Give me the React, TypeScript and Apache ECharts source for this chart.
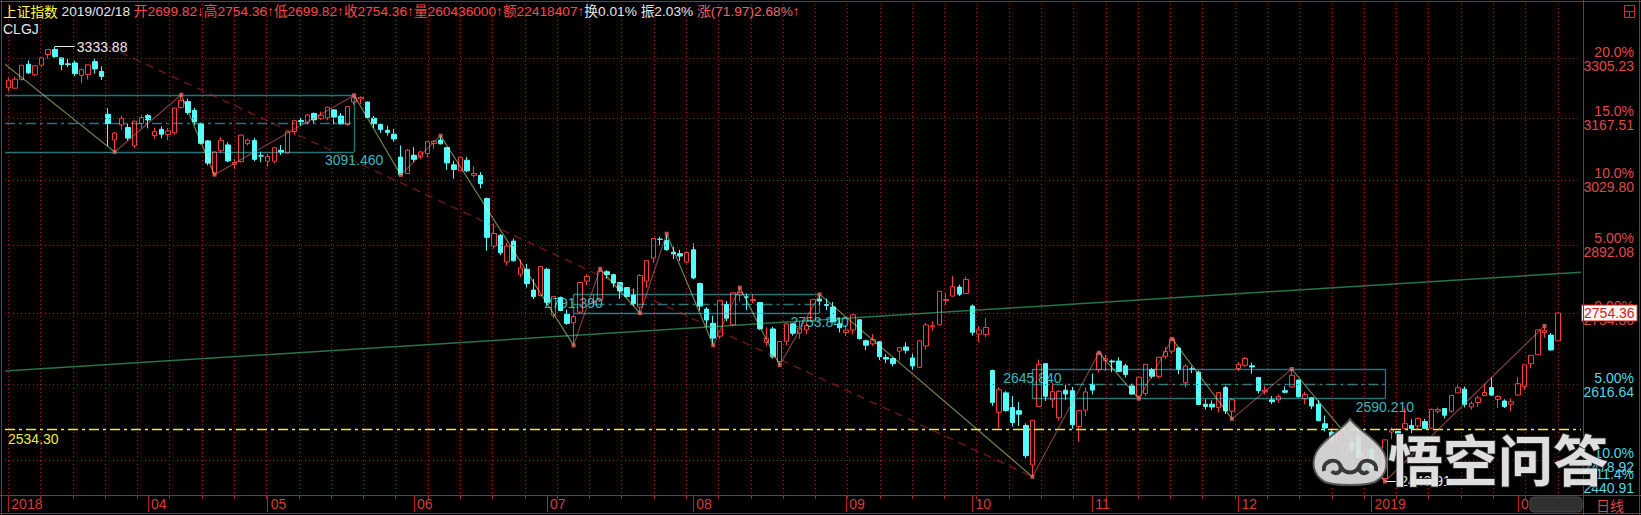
import React, { useEffect, useRef } from 'react';
import * as echarts from 'echarts';

// ---------------- trading days (day of month) ----------------
const days2018_03 = [2, 5, 6, 7, 8, 9, 12, 13, 14, 15, 16, 19, 20, 21, 22, 23, 26, 27, 28, 29, 30];
const days2018_04 = [2, 3, 4, 9, 10, 11, 12, 13, 16, 17, 18, 19, 20, 23, 24, 25, 26, 27];
const days2018_05 = [2, 3, 4, 7, 8, 9, 10, 11, 14, 15, 16, 17, 18, 21, 22, 23, 24, 25, 28, 29, 30, 31];
const days2018_06 = [1, 4, 5, 6, 7, 8, 11, 12, 13, 14, 15, 19, 20, 21, 22, 25, 26, 27, 28, 29];
const days2018_07 = [2, 3, 4, 5, 6, 9, 10, 11, 12, 13, 16, 17, 18, 19, 20, 23, 24, 25, 26, 27, 30, 31];
const days2018_08 = [1, 2, 3, 6, 7, 8, 9, 10, 13, 14, 15, 16, 17, 20, 21, 22, 23, 24, 27, 28, 29, 30, 31];
const days2018_09 = [3, 4, 5, 6, 7, 10, 11, 12, 13, 14, 17, 18, 19, 20, 21, 25, 26, 27, 28];
const days2018_10 = [8, 9, 10, 11, 12, 15, 16, 17, 18, 19, 22, 23, 24, 25, 26, 29, 30, 31];
const days2018_11 = [1, 2, 5, 6, 7, 8, 9, 12, 13, 14, 15, 16, 19, 20, 21, 22, 23, 26, 27, 28, 29, 30];
const days2018_12 = [3, 4, 5, 6, 7, 10, 11, 12, 13, 14, 17, 18, 19, 20, 21, 24, 25, 26, 27, 28];
const days2019_01 = [2, 3, 4, 7, 8, 9, 10, 11, 14, 15, 16, 17, 18, 21, 22, 23, 24, 25, 28, 29, 30, 31];
const days2019_02 = [1, 11, 12, 13, 14, 15, 18];

// ---------------- daily bars [open, high, low, close] ----------------
const bars2018_03 = [
  [3237, 3260, 3230, 3254.53], [3236, 3263, 3235, 3256.93], [3256, 3290, 3254, 3289.64],
  [3292, 3301, 3269, 3271.67], [3267, 3290, 3264, 3288.41], [3290, 3309, 3285, 3307.17],
  [3315, 3327, 3305, 3326.70], [3327, 3333.88, 3307, 3310.24], [3307, 3309, 3278, 3291.38],
  [3293, 3305, 3285, 3291.11], [3295, 3301, 3264, 3269.88], [3266, 3282, 3248, 3279.25],
  [3268, 3291, 3256, 3290.64], [3298, 3305, 3270, 3280.95], [3275, 3287, 3255, 3263.48],
  [3176, 3190, 3104, 3155.00], [3118, 3136, 3091.46, 3133.72], [3152, 3173, 3141, 3166.65],
  [3146, 3155, 3117, 3122.29], [3105, 3160, 3100, 3160.53], [3155, 3175, 3144, 3168.90],
];
const bars2018_04 = [
  [3173, 3177, 3144, 3163.18], [3128, 3146, 3121, 3136.63], [3142, 3149, 3122, 3131.11],
  [3130, 3145, 3118, 3138.29], [3134, 3190, 3130, 3190.32], [3191, 3220.85, 3190, 3208.08],
  [3205, 3212, 3175, 3180.16], [3185, 3191, 3152, 3159.05], [3154, 3157, 3108, 3110.65],
  [3116, 3118, 3062, 3066.80], [3045, 3092, 3041.5, 3091.40], [3094, 3125, 3089, 3117.38],
  [3107, 3113, 3069, 3071.54], [3064, 3076, 3055, 3068.01], [3070, 3130, 3068, 3128.93],
  [3110, 3121, 3106, 3117.97], [3117, 3123, 3071, 3075.03], [3083, 3092, 3069, 3082.23],
];
const bars2018_05 = [
  [3071, 3087, 3059, 3081.18], [3071, 3101, 3066, 3100.86], [3095, 3107, 3085, 3091.03],
  [3089, 3137, 3089, 3136.65], [3137, 3162, 3129, 3161.50], [3162, 3168, 3150, 3159.15],
  [3158, 3176, 3153, 3174.41], [3178, 3180, 3156, 3163.26], [3166, 3182, 3163, 3174.03],
  [3168, 3193, 3162, 3192.12], [3186, 3188, 3153, 3169.57], [3172, 3179, 3153, 3154.28],
  [3153, 3194, 3149, 3193.30], [3204, 3219.74, 3198, 3213.84], [3211, 3217, 3199, 3214.35],
  [3204, 3205, 3168, 3168.96], [3167, 3172, 3145, 3154.65], [3153, 3155, 3134, 3141.30],
  [3140, 3150, 3128, 3135.08], [3131, 3143, 3114, 3120.46], [3080, 3106, 3041.00, 3041.44],
  [3044, 3098, 3044, 3095.47],
];
const bars2018_06 = [
  [3084, 3102, 3069, 3075.14], [3081, 3094, 3075, 3091.19], [3088, 3114, 3079, 3114.21],
  [3110, 3118, 3098, 3115.18], [3118, 3127.7, 3108, 3109.50], [3101, 3102, 3052, 3067.15],
  [3063, 3072, 3033, 3052.78], [3050, 3080, 3050, 3079.80], [3073, 3080, 3047, 3049.80],
  [3040, 3060, 3035, 3044.16], [3040, 3047, 3012, 3021.90], [2990, 2992, 2880, 2907.82],
  [2890, 2937, 2885, 2915.73], [2912, 2915, 2871, 2875.81], [2857, 2897, 2850, 2889.76],
  [2900, 2905, 2858, 2859.34], [2832, 2862, 2826, 2844.51], [2842, 2853, 2805, 2813.18],
  [2800, 2822, 2782, 2786.90], [2789, 2847, 2787, 2847.42],
];
const bars2018_07 = [
  [2842, 2845, 2770, 2775.56], [2750, 2787, 2744, 2786.89], [2785, 2787, 2758, 2759.13],
  [2752, 2761, 2731, 2733.88], [2735, 2752, 2691.02, 2747.23], [2756, 2815, 2754, 2815.11],
  [2818, 2832, 2810, 2827.63], [2776, 2792, 2770, 2777.77], [2780, 2843, 2776, 2837.66],
  [2837, 2840, 2823, 2831.18], [2831, 2833, 2805, 2814.04], [2815, 2816, 2782, 2798.13],
  [2805, 2806, 2785, 2787.26], [2790, 2803, 2768, 2772.55], [2766, 2832, 2753.84, 2829.27],
  [2818, 2860, 2805, 2859.54], [2865, 2906, 2855, 2905.56], [2904, 2909, 2891, 2903.65],
  [2901, 2915.30, 2880, 2882.23], [2877, 2888, 2863, 2873.59], [2874, 2882, 2859, 2869.05],
  [2857, 2879, 2854, 2876.40],
];
const bars2018_08 = [
  [2882, 2895, 2822, 2824.53], [2813, 2815, 2759, 2768.02], [2762, 2766, 2727, 2740.44],
  [2734, 2749, 2691.5, 2705.16], [2709, 2779, 2703, 2779.37], [2771, 2778, 2738, 2744.07],
  [2731, 2795, 2729, 2794.38], [2790, 2805, 2777, 2795.31], [2786, 2793, 2760, 2785.87],
  [2779, 2792, 2774, 2780.96], [2775, 2776, 2721, 2723.26], [2697, 2726, 2690, 2705.19],
  [2723, 2727, 2666, 2668.97], [2660, 2699, 2653.11, 2698.47], [2699, 2735, 2691, 2733.03],
  [2733, 2735, 2710, 2714.61], [2715, 2738, 2704, 2724.62], [2721, 2736, 2713, 2729.43],
  [2738, 2781, 2738, 2780.90], [2782, 2791.39, 2770, 2777.98], [2771, 2783, 2760, 2769.30],
  [2766, 2776, 2735, 2737.74], [2733, 2745, 2716, 2725.25],
];
const bars2018_09 = [
  [2716, 2730, 2709, 2720.73], [2721, 2752, 2712, 2750.58], [2741, 2741, 2702, 2704.34],
  [2700, 2702, 2682, 2691.59], [2694, 2713, 2690, 2702.30], [2698, 2699, 2663, 2669.48],
  [2668, 2674, 2657, 2664.80], [2666, 2667, 2651, 2656.11], [2680, 2686, 2662, 2686.58],
  [2688, 2697, 2675, 2681.64], [2667, 2675, 2644.30, 2651.79], [2649, 2701, 2648, 2699.95],
  [2690, 2735, 2683, 2730.85], [2727, 2738, 2720, 2729.24], [2731, 2798, 2730, 2797.49],
  [2779, 2794, 2770, 2781.14], [2788, 2828, 2787, 2806.81], [2806, 2811, 2788, 2791.77],
  [2793, 2827, 2792, 2821.35],
];
const bars2018_10 = [
  [2768, 2771, 2710, 2716.51], [2713, 2729, 2697, 2721.01], [2712, 2744, 2707, 2725.84],
  [2643, 2645, 2577, 2583.46], [2565, 2612, 2536, 2606.91], [2601, 2604, 2566, 2568.10],
  [2574, 2595, 2539, 2546.33], [2568, 2584, 2540, 2561.61], [2541, 2545, 2482, 2486.42],
  [2470, 2551, 2449.20, 2550.47], [2576, 2664, 2576, 2654.88], [2656, 2657, 2586, 2594.83],
  [2588, 2620, 2573, 2603.30], [2555, 2606, 2550, 2603.80], [2606, 2618, 2588, 2598.85],
  [2605, 2612, 2535, 2542.10], [2539, 2569, 2511, 2568.05], [2569, 2611, 2558, 2602.78],
];
const bars2018_11 = [
  [2617, 2637, 2598, 2606.24], [2645, 2677, 2639, 2676.48], [2662, 2673, 2642, 2665.43],
  [2661, 2664, 2640, 2659.36], [2661, 2668, 2640, 2641.34], [2652, 2656, 2630, 2635.63],
  [2614, 2618, 2597, 2598.87], [2595, 2630, 2590.21, 2630.52], [2600, 2654, 2595, 2654.88],
  [2645, 2648, 2628, 2632.24], [2632, 2668, 2628, 2668.17], [2670, 2688, 2665, 2679.11],
  [2680, 2703.51, 2675, 2703.51], [2686, 2688, 2636, 2645.43], [2620, 2655, 2611, 2651.51],
  [2646, 2651, 2638, 2645.85], [2640, 2643, 2579, 2579.48], [2580, 2589, 2570, 2575.81],
  [2580, 2587, 2569, 2574.68], [2574, 2602, 2565, 2601.74], [2611, 2614, 2562, 2567.44],
  [2567, 2591, 2553, 2588.19],
];
const bars2018_12 = [
  [2647, 2659, 2642, 2654.80], [2653, 2669, 2650, 2665.96], [2652, 2658, 2637, 2649.81],
  [2630, 2630, 2600, 2605.18], [2603, 2614, 2598, 2605.89], [2588, 2595, 2580, 2584.58],
  [2588, 2598, 2583, 2594.09], [2605, 2613, 2600, 2602.15], [2612, 2645.84, 2611, 2634.05],
  [2625, 2626, 2592, 2593.74], [2590, 2603, 2580, 2597.97], [2592, 2593, 2571, 2576.65],
  [2580, 2587, 2549, 2549.56], [2544, 2559, 2530, 2536.27], [2529, 2535, 2507, 2516.25],
  [2512, 2531, 2505, 2527.01], [2488, 2510, 2484, 2504.82], [2510, 2513, 2492, 2498.29],
  [2520, 2531, 2482, 2483.09], [2482, 2500, 2480, 2493.90],
];
const bars2019_01 = [
  [2497, 2500, 2456, 2465.29], [2461, 2488, 2455, 2464.36], [2446, 2515, 2440.91, 2514.87],
  [2529, 2537, 2516, 2533.09], [2530, 2531, 2519, 2526.46], [2535, 2574, 2535, 2544.34],
  [2541, 2552, 2527, 2535.10], [2540, 2555, 2533, 2553.83], [2548, 2553, 2534, 2535.77],
  [2536, 2572, 2534, 2570.42], [2567, 2574, 2563, 2570.34], [2572, 2573, 2554, 2559.64],
  [2567, 2598, 2564, 2596.01], [2601, 2618, 2601, 2610.51], [2608, 2613, 2574, 2579.70],
  [2575, 2586, 2570, 2581.00], [2583, 2596, 2575, 2591.69], [2596, 2618, 2595, 2601.72],
  [2611, 2630, 2595, 2596.98], [2589, 2597, 2573, 2594.25], [2586, 2589, 2573, 2575.58],
  [2580, 2591, 2567, 2584.57],
];
const bars2019_02 = [
  [2597, 2631, 2596, 2618.23], [2613, 2654, 2606, 2653.90], [2656, 2672, 2647, 2671.89],
  [2673, 2722, 2673, 2721.07], [2716, 2729, 2706, 2719.70], [2711, 2715, 2681, 2682.39],
  [2699.82, 2754.36, 2699.82, 2754.36],
];

const MONTHS = [
  { y: 2018, m: 3, days: days2018_03, bars: bars2018_03 },
  { y: 2018, m: 4, days: days2018_04, bars: bars2018_04 },
  { y: 2018, m: 5, days: days2018_05, bars: bars2018_05 },
  { y: 2018, m: 6, days: days2018_06, bars: bars2018_06 },
  { y: 2018, m: 7, days: days2018_07, bars: bars2018_07 },
  { y: 2018, m: 8, days: days2018_08, bars: bars2018_08 },
  { y: 2018, m: 9, days: days2018_09, bars: bars2018_09 },
  { y: 2018, m: 10, days: days2018_10, bars: bars2018_10 },
  { y: 2018, m: 11, days: days2018_11, bars: bars2018_11 },
  { y: 2018, m: 12, days: days2018_12, bars: bars2018_12 },
  { y: 2019, m: 1, days: days2019_01, bars: bars2019_01 },
  { y: 2019, m: 2, days: days2019_02, bars: bars2019_02 },
];

// ---------------- price axis (log scale) ----------------
const PRICE_MIN = 2417.4;
const PRICE_MAX = 3437.3;
const rightTickPrices = [3305.23, 3167.51, 3029.80, 2892.08, 2754.36, 2616.64, 2478.92];
const rightTickPcts = ['20.0%', '15.0%', '10.0%', '5.00%', '0.00%', '5.00%', '10.0%'];
const lastClose = 2754.36;
const lowestPrice = 2440.91;
const lowestPct = '11.4%';

// ---------------- drawn annotations ----------------
const pivotIdx = [-0.5, 16, 26, 31, 52, 59, 65, 85, 89, 95, 99, 106, 110, 116, 122, 154, 164, 170, 175, 184, 193, 207, 231];
const pivotPrice = [3292, 3091.46, 3220.85, 3041.5, 3219.74, 3041.0, 3127.7, 2691.02, 2843, 2753.84, 2915.3, 2691.5, 2805, 2653.11, 2791.39, 2449.2, 2677, 2590.21, 2703.51, 2553, 2645.84, 2440.91, 2729];
const boxFrom = [-0.5, 85, 154];
const boxTo = [52, 122, 207];
const boxTop = [3219.74, 2791.39, 2645.84];
const boxBottom = [3091.46, 2753.84, 2590.21];
const dashedTrend = [[15, 3333.88], [154, 2449.2]];
const greenTrend = [[-0.5, 2642.0], [236.5, 2836.0]];
const supportLevel = 2534.30;
const highMark = { idx: 7, price: 3333.88 };
const lowMark = { idx: 207, price: 2440.91 };

// ---------------- styles / layout ----------------
const FONT = '"Liberation Sans", Arial, "Noto Sans CJK SC", sans-serif';
const CJK = '"Noto Sans CJK SC", "Liberation Sans", sans-serif';
const UP = '#ff3c3c';
const DOWN = '#54fcfc';
const FRAME = '#b41e1e';
const GRIDC = '#a01c1c';
const LRED = '#e04848';
const LCYAN = '#4fd8e0';
const BOXC = '#46e6ee';
const STROKE_UP = '#ff7a7a';
const STROKE_DOWN = '#dcff9e';
const CLEAR = 'rgba(0,0,0,0)';

const BAR = 6.65;
const N_CAT = 237;
const GRID_LEFT = 5;
const GRID_TOP = 4;
const GRID_H = 491;
const VGRID_STEP = 233 / 48;
const VGRID_MAX = 236.8;

const PEACH = 'M40 0 C33 10 18 17 9 29 C0 41 2 56 15 63 C24 67 56 67 65 63 C78 56 80 41 71 29 C62 17 47 10 40 0 Z';
const SWIRL = 'M14 52 C12 42 26 38 30 46 C33 53 25 57 22 52 M66 52 C68 42 54 38 50 46 C47 53 55 57 58 52 M30 46 C34 56 46 56 50 46';
echarts.graphic.registerShape('wkPeach', echarts.graphic.extendPath(PEACH, {}));
echarts.graphic.registerShape('wkSwirl', echarts.graphic.extendPath(SWIRL, {}));

function pad(n: number) { return n < 10 ? '0' + n : '' + n; }

function buildOption() {
  const dates: string[] = [];
  const ohlc: number[][] = [];
  const monthStartLabel: Record<number, string> = {};
  MONTHS.forEach((mo, k) => {
    monthStartLabel[dates.length] = k === 0 ? String(mo.y) : mo.m === 1 ? String(mo.y) : pad(mo.m);
    mo.days.forEach((d, i) => {
      dates.push(`${mo.y}-${pad(mo.m)}-${pad(d)}`);
      const [o, h, l, c] = mo.bars[i];
      ohlc.push([o, c, l, h]);
    });
  });
  let padN = 0;
  while (dates.length < N_CAT) dates.push('pad' + padN++);
  const isMonthStart = (i: number) => monthStartLabel[i] !== undefined;

  // stroke / box / trend lines (value-x grid aligned with bar centres)
  const lines: any[] = [];
  for (let k = 0; k < pivotIdx.length - 1; k++) {
    const down = pivotPrice[k + 1] < pivotPrice[k];
    lines.push({
      coords: [[pivotIdx[k], pivotPrice[k]], [pivotIdx[k + 1], pivotPrice[k + 1]]],
      lineStyle: { color: down ? STROKE_DOWN : STROKE_UP, width: 1.2, type: 'solid' },
    });
  }
  const boxLabels: any[] = [];
  boxFrom.forEach((f, i) => {
    const t = boxTo[i];
    const top = boxTop[i];
    const bot = boxBottom[i];
    const mid = (top + bot) / 2;
    const st = { color: BOXC, width: 1.4, type: 'solid' };
    lines.push({ coords: [[f, top], [t, top]], lineStyle: st });
    lines.push({ coords: [[f, bot], [t, bot]], lineStyle: st });
    lines.push({ coords: [[f, mid], [t, mid]], lineStyle: { color: BOXC, width: 1.4, type: [10, 4, 3, 4] } });
    lines.push({ coords: [[t, top], [t, bot]], lineStyle: st });
    if (f >= 0) {
      lines.push({ coords: [[f, top], [f, bot]], lineStyle: st });
      boxLabels.push({ value: [f, top], label: { formatter: top.toFixed(3) } });
    }
    boxLabels.push({ value: [t, bot], label: { formatter: bot.toFixed(3) } });
  });
  lines.push({ coords: dashedTrend, lineStyle: { color: '#d83030', width: 1.4, type: [8, 6] } });
  lines.push({ coords: greenTrend, lineStyle: { color: '#48e890', width: 1.5, type: 'solid' } });

  const pivotDots = pivotIdx.slice(1).map((x, i) => [x, pivotPrice[i + 1]]);

  // horizontal level lines with right-side labels
  const levelRich = (color: string) => ({ a: { width: 51, align: 'right', color, fontSize: 14, fontFamily: FONT, lineHeight: 14 } });
  const markData: any[] = rightTickPrices.map((p, i) => ({
    yAxis: p,
    lineStyle: { color: GRIDC, type: [1, 3], width: 1 },
    label: {
      show: true, position: 'end', distance: 2,
      formatter: `{a|${rightTickPcts[i]}}\n{a|${p.toFixed(2)}}`,
      rich: levelRich(p >= lastClose ? LRED : LCYAN),
    },
  }));
  markData.push({
    yAxis: lowestPrice,
    lineStyle: { color: CLEAR, width: 1 },
    label: {
      show: true, position: 'end', distance: 2,
      formatter: `{a|${lowestPct}}\n{a|${lowestPrice.toFixed(2)}}`,
      rich: levelRich(LCYAN),
    },
  });
  markData.push({
    yAxis: lastClose,
    lineStyle: { color: CLEAR, width: 1 },
    label: {
      show: true, position: 'end', distance: 1, formatter: lastClose.toFixed(2),
      color: '#e01818', fontSize: 14, fontFamily: FONT, backgroundColor: '#f6f6f6',
      borderColor: '#e01818', borderWidth: 1, padding: [1, 2, 0, 2],
    },
  });
  markData.push({
    yAxis: supportLevel,
    lineStyle: { color: '#ecec30', type: [10, 4, 3, 4], width: 1.4 },
    label: { show: true, position: 'insideStartBottom', distance: 3, formatter: supportLevel.toFixed(2), color: '#ecec30', fontSize: 14, fontFamily: FONT },
  });
  markData.push([
    {
      coord: [highMark.idx, highMark.price],
      lineStyle: { color: '#e8e8e8', width: 1, type: 'solid' },
      label: { show: true, position: 'end', distance: 2, formatter: highMark.price.toFixed(2), color: '#e8e8e8', fontSize: 14, fontFamily: FONT },
    },
    { coord: [highMark.idx + 3, highMark.price] },
  ]);
  markData.push([
    {
      coord: [lowMark.idx, lowMark.price],
      lineStyle: { color: '#e8e8e8', width: 1, type: 'solid' },
      label: { show: true, position: 'end', distance: 2, formatter: lowMark.price.toFixed(2), color: '#e8e8e8', fontSize: 14, fontFamily: FONT },
    },
    { coord: [lowMark.idx + 2, lowMark.price] },
  ]);

  const HF = 13.7;
  const headerRich = {
    y: { fill: '#ffff3c', fontFamily: CJK, fontSize: HF },
    w: { fill: '#e6e6e6', fontFamily: FONT, fontSize: HF },
    r: { fill: '#ff4646', fontFamily: FONT, fontSize: HF },
    p: { fill: '#ec6464', fontFamily: FONT, fontSize: HF },
  };

  const frameLine = (x1: number, y1: number, x2: number, y2: number) => ({
    type: 'line', z: 50, silent: true,
    shape: { x1, y1, x2, y2 },
    style: { stroke: FRAME, lineWidth: 1 },
  });

  return {
    animation: false,
    backgroundColor: '#000',
    grid: [
      { left: GRID_LEFT, top: GRID_TOP, width: N_CAT * BAR, height: GRID_H },
      { left: GRID_LEFT, top: GRID_TOP, width: N_CAT * BAR, height: GRID_H },
      { left: GRID_LEFT + 0.5 * BAR, top: GRID_TOP, width: VGRID_MAX * BAR, height: GRID_H },
    ],
    xAxis: [
      {
        type: 'category', gridIndex: 0, data: dates, boundaryGap: true,
        axisLine: { show: false },
        axisTick: { show: true, alignWithLabel: true, interval: (i: number) => isMonthStart(i), length: 17, lineStyle: { color: FRAME } },
        axisLabel: {
          show: true, interval: (i: number) => isMonthStart(i),
          formatter: (_v: string, i: number) => monthStartLabel[i] || '',
          color: '#d83a3a', fontSize: 14, fontFamily: FONT, align: 'left', margin: 2, padding: [0, 0, 0, 3],
        },
        splitLine: { show: false },
      },
      {
        type: 'value', gridIndex: 1, min: -0.5, max: N_CAT - 0.5, show: false,
        splitLine: { show: false },
      },
      {
        type: 'value', gridIndex: 2, min: 0, max: VGRID_MAX, interval: VGRID_STEP,
        axisLine: { show: false }, axisLabel: { show: false },
        axisTick: { show: true, length: 4, lineStyle: { color: FRAME } },
        splitLine: { show: true, lineStyle: { color: GRIDC, type: [1, 3], width: 1 } },
      },
    ],
    yAxis: [
      { type: 'log', logBase: 10, gridIndex: 0, min: PRICE_MIN, max: PRICE_MAX, position: 'right', axisLine: { show: false }, axisTick: { show: false }, axisLabel: { show: false }, splitLine: { show: false } },
      { type: 'log', logBase: 10, gridIndex: 1, min: PRICE_MIN, max: PRICE_MAX, show: false, splitLine: { show: false } },
      { type: 'value', gridIndex: 2, min: 0, max: 1, show: false, splitLine: { show: false } },
    ],
    series: [
      {
        type: 'candlestick', xAxisIndex: 0, yAxisIndex: 0, data: ohlc, barWidth: 5, clip: false,
        itemStyle: { color: '#000', color0: DOWN, borderColor: UP, borderColor0: DOWN, borderWidth: 1 },
        markLine: { silent: true, symbol: ['none', 'none'], animation: false, data: markData },
      },
      {
        type: 'lines', coordinateSystem: 'cartesian2d', xAxisIndex: 1, yAxisIndex: 1, z: 5, silent: true,
        data: lines,
      },
      {
        type: 'scatter', xAxisIndex: 1, yAxisIndex: 1, z: 6, silent: true,
        symbol: 'rect', symbolSize: 4, itemStyle: { color: '#e86464' },
        data: pivotDots,
      },
      {
        type: 'scatter', xAxisIndex: 1, yAxisIndex: 1, z: 6, silent: true,
        symbol: 'circle', symbolSize: 1, itemStyle: { color: CLEAR },
        label: { show: true, position: 'bottom', distance: 1, color: BOXC, fontSize: 14, fontFamily: FONT },
        data: boxLabels,
      },
    ],
    graphic: [
      frameLine(0, 1.5, 1641, 1.5),
      frameLine(1.5, 0, 1.5, 515),
      frameLine(1583.5, 0, 1583.5, 515),
      frameLine(1639.5, 0, 1639.5, 515),
      frameLine(0, 495.5, 1641, 495.5),
      frameLine(0, 513.5, 1641, 513.5),
      {
        type: 'rect', z: 1, silent: true,
        shape: { x: 1530, y: 497, width: 52, height: 15, r: 4 },
        style: { fill: '#303030', stroke: '#4a4a4a', lineWidth: 1 },
      },
      {
        type: 'text', z: 100, silent: true,
        style: {
          x: 3, y: 11, verticalAlign: 'middle', align: 'left',
          text: '{y|上证指数} {w|2019/02/18} {r|开2699.82↓高2754.36↑低2699.82↑收2754.36↑量260436000↑额22418407↑}{w|换0.01% 振2.03%} {p|涨(71.97)2.68%↑}',
          rich: headerRich, fill: '#e6e6e6', font: HF + 'px ' + FONT,
        },
      },
      {
        type: 'text', z: 100, silent: true,
        style: { x: 3, y: 29, verticalAlign: 'middle', text: 'CLGJ', fill: '#e6e6e6', font: '14px ' + FONT },
      },
      {
        type: 'text', z: 100, silent: true,
        style: { x: 1596, y: 505, verticalAlign: 'middle', text: '日线', fill: '#e04040', font: '14px ' + CJK },
      },
      {
        type: 'group', z: 100, silent: true,
        children: [
          { type: 'rect', z: 100, shape: { x: 1624.5, y: 5.5, width: 10, height: 12 }, style: { fill: 'none', stroke: '#c83030', lineWidth: 1 } },
          { type: 'line', z: 100, shape: { x1: 1624.5, y1: 11.5, x2: 1634.5, y2: 11.5 }, style: { stroke: '#c83030', lineWidth: 1 } },
          { type: 'line', z: 100, shape: { x1: 1629.5, y1: 11.5, x2: 1629.5, y2: 17.5 }, style: { stroke: '#c83030', lineWidth: 1 } },
        ],
      },
      {
        type: 'wkPeach', z: 120, silent: true, x: 1310, y: 419, scaleX: 1, scaleY: 1,
        style: { fill: 'rgba(225,225,225,0.92)', stroke: '#555', lineWidth: 2 },
      },
      {
        type: 'wkSwirl', z: 121, silent: true, x: 1310, y: 419, scaleX: 1, scaleY: 1,
        style: { fill: 'none', stroke: 'rgba(40,40,40,0.9)', lineWidth: 4 },
      },
      {
        type: 'text', z: 120, silent: true,
        style: {
          x: 1388, y: 457, verticalAlign: 'middle', text: '悟空问答',
          fill: 'rgba(236,236,236,0.94)', stroke: 'rgba(50,50,50,0.9)', lineWidth: 2,
          font: 'bold 55px ' + CJK,
        },
      },
    ],
  };
}

export default function App() {
  const ref = useRef<HTMLDivElement>(null);
  useEffect(() => {
    if (!ref.current) return;
    const chart = echarts.init(ref.current, undefined, { renderer: 'svg' });
    chart.setOption(buildOption() as any);
    return () => chart.dispose();
  }, []);
  return (
    <div
      ref={ref}
      style={{ position: 'fixed', left: 0, top: 0, width: 1641, height: 515, background: '#000' }}
    />
  );
}
